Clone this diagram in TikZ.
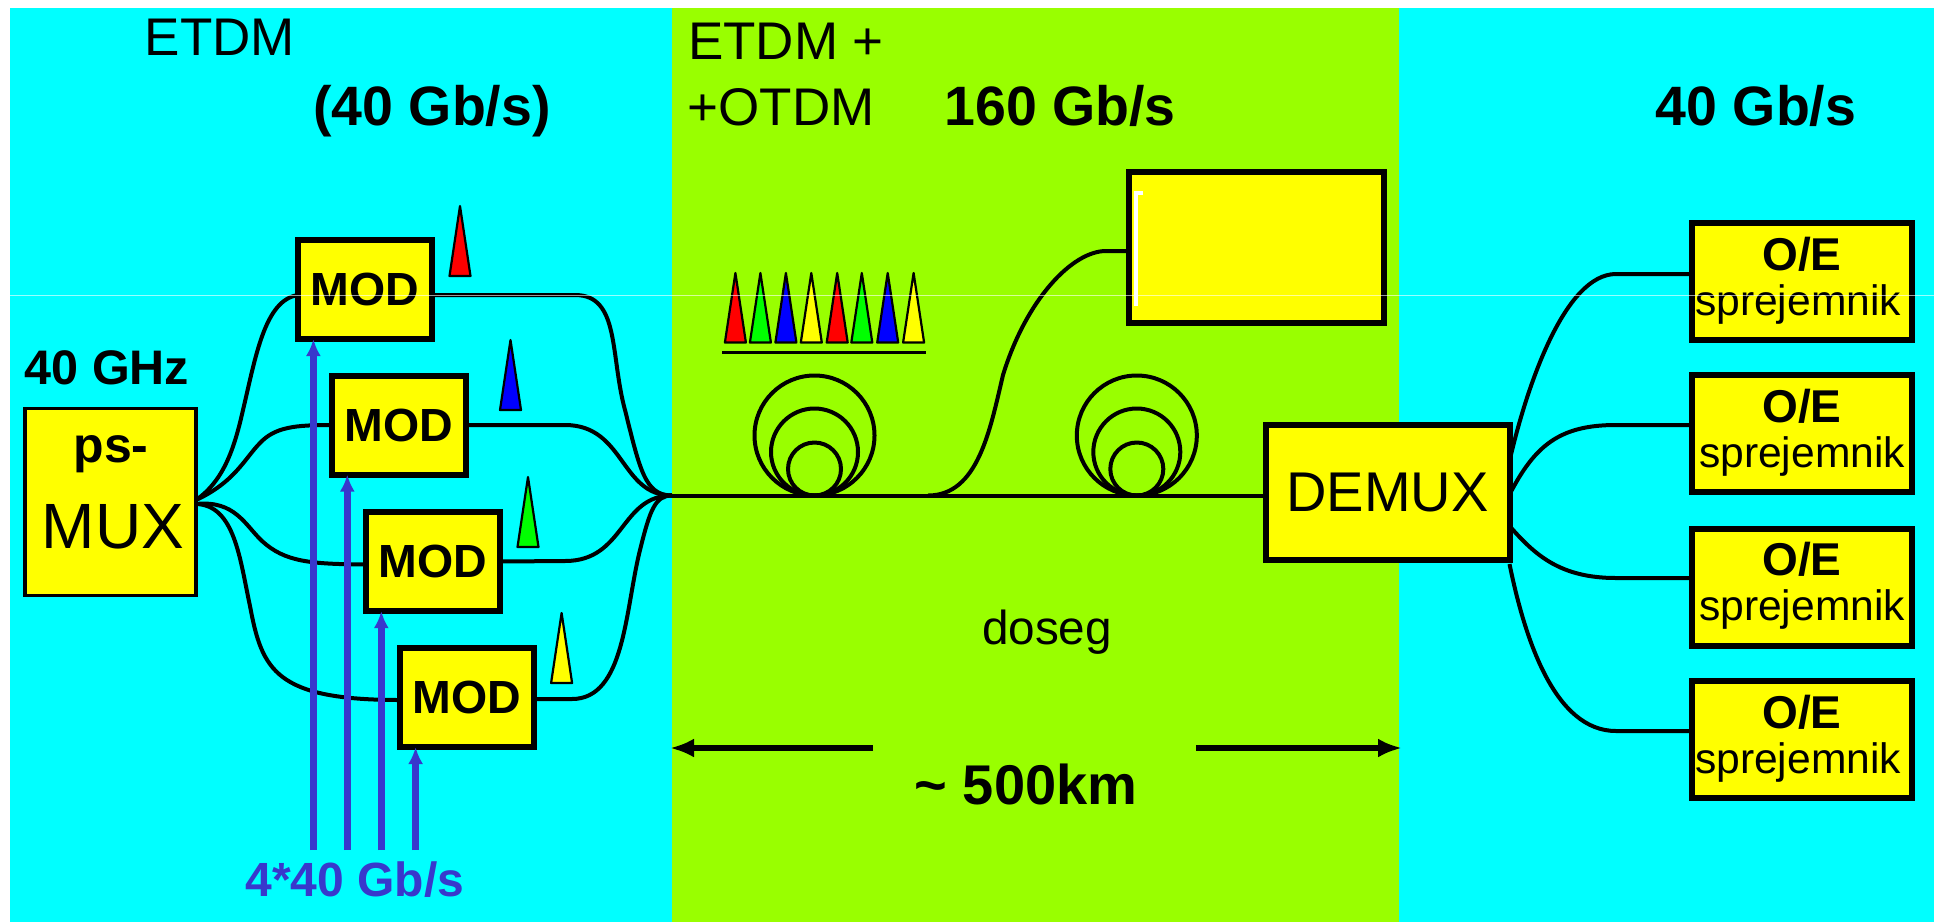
\documentclass[tikz,border=0pt]{standalone}
\usepackage{fontspec}
\setmainfont{Liberation Sans}
\usepackage{xcolor}
\usepackage{tikz}
\usetikzlibrary{calc,arrows.meta,positioning}
\definecolor{bandCyan}{RGB}{0,255,255}
\definecolor{bandGreen}{RGB}{153,255,0}
\definecolor{boxYellow}{RGB}{255,255,0}
\definecolor{dataBlue}{RGB}{56,56,204}
\newcommand{\fs}[1]{\fontsize{#1}{#1}\selectfont}
\tikzset{
  blockbox/.style={draw=black, fill=boxYellow, line width=6pt, inner sep=0pt, outer sep=0pt},
  modbox/.style={blockbox, minimum width=134pt, minimum height=99pt, font=\fs{46.5}\bfseries},
  oebox/.style={blockbox, minimum width=220pt, minimum height=117pt},
  fibre/.style={draw=black, line width=4pt},
  databeam/.style={draw=dataBlue, line width=6.5pt, -{Latex[length=17pt,width=15pt]}},
  spanarrow/.style={draw=black, line width=6.5pt, -{Latex[length=24pt,width=19pt]}},
  pulse/.style={draw=black, line width=2.2pt, line join=round},
  txt/.style={anchor=base, inner sep=0pt, outer sep=0pt},
}
\begin{document}
\begin{tikzpicture}[x=1pt,y=-1pt]
    \useasboundingbox (0,0) rectangle (1934,922);

    % bands
    \fill[white] (0,0) rectangle (1934,922);
    \fill[bandCyan] (10,8) rectangle (1934,922);
    \fill[bandGreen] (672,8) rectangle (1399,922);

    % transmitter
    \node[blockbox, line width=3.5pt, minimum width=171pt, minimum height=187pt] (mux) at (110.5,502) {};
    \node[modbox] (mod1) at (365,289.5) {MOD};
    \node[modbox] (mod2) at (399,425) {MOD};
    \node[modbox] (mod3) at (433,561.5) {MOD};
    \node[modbox] (mod4) at (467,697.5) {MOD};

    % big box, demux and receivers
    \node[blockbox, minimum width=255pt, minimum height=151pt] (bigbox) at (1256,247.5) {};
    \node[blockbox, font=\fs{56}, minimum width=244pt, minimum height=135pt] (demux) at (1387.5,492.5) {DEMUX};
    \node[oebox] (oe1) at (1801.5,281) {};
    \node[oebox] (oe2) at (1801.5,433.5) {};
    \node[oebox] (oe3) at (1801.5,587) {};
    \node[oebox] (oe4) at (1801.5,739.5) {};

    % fibres into modulators
    \draw[fibre] ([yshift=2pt]mux.east) .. controls (225,480) and (235,445) .. (243,410) .. controls (256,355) and (265,300) .. ([yshift=-5.5pt]mod1.west);
    \draw[fibre] ([yshift=2pt]mux.east) .. controls (235,482) and (245,458) .. (260,443) .. controls (275,427) and (295,425) .. (mod2.west);
    \draw[fibre] ([yshift=-2pt]mux.east) .. controls (235,500) and (245,525) .. (262,541) .. controls (285,562) and (310,564) .. ([yshift=-3pt]mod3.west);
    \draw[fibre] ([yshift=-2pt]mux.east) .. controls (235,505) and (240,560) .. (250,606) .. controls (262,670) and (275,700) .. ([yshift=-2.5pt]mod4.west);

    % fibres out of modulators
    \coordinate (combine) at (672,495.5);
    \draw[fibre] ([yshift=-5.5pt]mod1.east) -- (575,295) .. controls (620,295) and (610,355) .. (625,410) .. controls (640,470) and (645,495.5) .. (combine);
    \draw[fibre] (mod2.east) -- (565,425) .. controls (625,425) and (620,495.5) .. (combine);
    \draw[fibre] (mod3.east) -- (565,561) .. controls (625,561) and (620,495.5) .. (combine);
    \draw[fibre] ([yshift=-1.5pt]mod4.east) -- (572,699) .. controls (625,699) and (625,610) .. (640,550) .. controls (650,510) and (655,495.5) .. (combine);

    % main line with coils
    \draw[fibre] (combine) -- (demux.west |- combine);
    \foreach \cx in {814.5,1136.8}{
        \foreach \rad in {60,43.5,26.5}{
            \draw[fibre] (\cx,495.5-\rad) circle (\rad);
        }
    }
    \draw[fibre] (928,495.5) .. controls (978,495.5) and (990,430) .. (1003,375) .. controls (1026,300) and (1072,251) .. (1106,251) -- (bigbox.west |- 0,251);

    % fibres to receivers
    \draw[fibre] ([yshift=31.5pt]demux.east) .. controls (1527,385) and (1565,274) .. (1616,274) -- (oe1.west |- 0,274);
    \draw[fibre] ([yshift=-2pt]demux.east) .. controls (1535,445) and (1560,425) .. (1616,425) -- (oe2.west |- 0,425);
    \draw[fibre] ([yshift=-33.5pt]demux.east) .. controls (1535,555) and (1560,578) .. (1616,578) -- (oe3.west |- 0,578);
    \draw[fibre] ([yshift=-71.5pt]demux.east) .. controls (1525,640) and (1555,731) .. (1616,731) -- (oe4.west |- 0,731);

    % data inputs
    \foreach \i/\x in {1/313.4,2/347.3,3/381.3,4/415.6}{
        \coordinate (data\i) at (\x,850);
        \draw[databeam] (data\i) -- (data\i |- mod\i.south);
    }

    % pulses at modulators
    \foreach \px/\py/\col in {460/206/red,510.5/340/blue,528/477/green,561.6/613/boxYellow}{
        \draw[pulse, fill=\col] (\px,\py) -- (\px+10.5,\py+70) -- (\px-10.5,\py+70) -- cycle;
    }

    % time multiplexed pulses
    \foreach \px/\col in {735.4/red,760.4/green,785.9/blue,811.3/boxYellow,837.2/red,861.8/green,887.7/blue,913.6/boxYellow}{
        \draw[pulse, fill=\col] (\px,273) -- (\px+10.5,342.5) -- (\px-10.5,342.5) -- cycle;
    }
    \draw[black, line width=3pt] (722,352) -- (926,352);

    % reach arrows
    \coordinate (spanL) at (873,748);
    \coordinate (bandL) at (670,748);
    \coordinate (spanR) at (1196,748);
    \coordinate (bandR) at (1402,748);
    \draw[spanarrow] (spanL) -- (bandL);
    \draw[spanarrow] (spanR) -- (bandR);

    % labels
    \node[txt, font=\fs{53}] (etdm) at (220,55) {ETDM};
    \node[txt, font=\fs{55.5}\bfseries] (rate40a) at (432,125) {(40 Gb/s)};
    \node[txt, font=\fs{53}] (etdmplus) at (786,59) {ETDM +};
    \node[txt, font=\fs{53}] (otdm) at (781,125) {+OTDM};
    \node[txt, font=\fs{55.5}\bfseries] (rate160) at (1060,125) {160 Gb/s};
    \node[txt, font=\fs{55.5}\bfseries] (rate40b) at (1756,125) {40 Gb/s};
    \node[txt, font=\fs{48.5}\bfseries] (clock) at (107,384) {40 GHz};
    \node[txt, font=\fs{50}\bfseries] (psl) at (111,462) {ps-};
    \node[txt, font=\fs{64}] (muxl) at (113,548) {MUX};
    \node[txt, font=\fs{48}\bfseries, text=dataBlue] (datarate) at (355,896) {4*40 Gb/s};
    \node[txt, font=\fs{47.7}] (reach) at (1047,644) {doseg};
    \node[txt, font=\fs{56}\bfseries] (dist) at (1026,804) {\char`~\ 500km};
    \foreach \i/\x/\y in {1/1798/0,2/1802/152.5,3/1802/305.5,4/1798/458.5}{
        \node[txt, font=\fs{46}\bfseries] (oet\i) at (1802,270+\y) {O/E};
        \node[txt, font=\fs{42.6}] (rx\i) at (\x,315+\y) {sprejemnik};
    }

    % scan marks
    \draw[white, line width=3.5pt] (1143,193) -- (1136,193) -- (1136,306);
    \draw[white, opacity=0.6, line width=0.8pt] (10,295) -- (1934,295);
\end{tikzpicture}
\end{document}
